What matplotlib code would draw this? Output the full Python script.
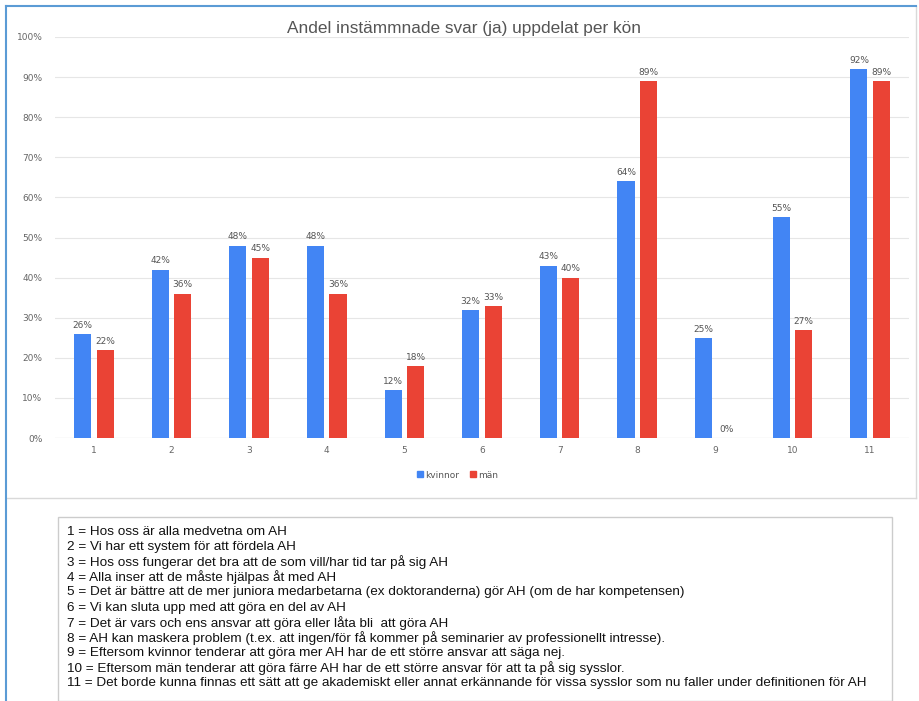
import matplotlib.pyplot as plt
import matplotlib.patches as mpatches
from matplotlib.lines import Line2D
import numpy as np

categories = ["1", "2", "3", "4", "5", "6", "7", "8", "9", "10", "11"]
kvinnor = [26, 42, 48, 48, 12, 32, 43, 64, 25, 55, 92]
man = [22, 36, 45, 36, 18, 33, 40, 89, 0, 27, 89]
yticks = [0, 10, 20, 30, 40, 50, 60, 70, 80, 90, 100]
title = "Andel instämmnade svar (ja) uppdelat per kön"
descriptions = [
    "1 = Hos oss är alla medvetna om AH",
    "2 = Vi har ett system för att fördela AH",
    "3 = Hos oss fungerar det bra att de som vill/har tid tar på sig AH",
    "4 = Alla inser att de måste hjälpas åt med AH",
    "5 = Det är bättre att de mer juniora medarbetarna (ex doktoranderna) gör AH (om de har kompetensen)",
    "6 = Vi kan sluta upp med att göra en del av AH",
    "7 = Det är vars och ens ansvar att göra eller låta bli  att göra AH",
    "8 = AH kan maskera problem (t.ex. att ingen/för få kommer på seminarier av professionellt intresse).",
    "9 = Eftersom kvinnor tenderar att göra mer AH har de ett större ansvar att säga nej.",
    "10 = Eftersom män tenderar att göra färre AH har de ett större ansvar för att ta på sig sysslor.",
    "11 = Det borde kunna finnas ett sätt att ge akademiskt eller annat erkännande för vissa sysslor som nu faller under definitionen för AH",
]

W, H = 920, 701
blue = "#4285F4"
red = "#EA4335"

fig = plt.figure(figsize=(W / 100, H / 100), dpi=100)
fig.patch.set_facecolor("white")

def fx(px):
    return px / W

def fy(py):
    return 1 - py / H

# chart frame
fig.add_artist(Line2D([fx(916), fx(916)], [fy(6), fy(498)], color="#d9d9d9", lw=1))
fig.add_artist(Line2D([fx(6), fx(916)], [fy(498), fy(498)], color="#d9d9d9", lw=1))
fig.add_artist(Line2D([fx(6), fx(6)], [0, fy(6)], color="#5b9bd5", lw=1.5))
fig.add_artist(Line2D([fx(6), fx(916)], [fy(6), fy(6)], color="#5b9bd5", lw=1.5))

ax = fig.add_axes([fx(55), fy(438), fx(909) - fx(55), fy(37) - fy(438)])
x = np.arange(len(categories))
bw = 0.22
off = 0.145
b1 = ax.bar(x - off, kvinnor, bw, color=blue, label="kvinnor", zorder=3)
b2 = ax.bar(x + off, man, bw, color=red, label="män", zorder=3)
for bars, vals in ((b1, kvinnor), (b2, man)):
    for r, v in zip(bars, vals):
        ax.annotate(f"{v}%", (r.get_x() + r.get_width() / 2, v), xytext=(0, 3),
                    textcoords="offset points", ha="center", va="bottom",
                    fontsize=6.5, color="#555555")

ax.set_xlim(-0.5, len(categories) - 0.5)
ax.set_ylim(0, 100)
ax.set_yticks(yticks)
ax.set_yticklabels([f"{t}%" for t in yticks])
ax.set_xticks(x)
ax.set_xticklabels(categories)
ax.tick_params(length=0, labelsize=6.5, labelcolor="#666666")
ax.tick_params(axis="y", pad=9)
ax.tick_params(axis="x", pad=6)
ax.grid(axis="y", color="#e6e6e6", lw=0.8, zorder=0)
for s in ax.spines.values():
    s.set_visible(False)
ax.axhline(0, color="#cccccc", lw=0.8, zorder=1)

fig.text(fx(464), fy(28), title, ha="center", va="center", fontsize=12.4,
         color="#555555", family="Liberation Sans")

fig.legend(handles=[mpatches.Patch(color=blue, label="kvinnor"),
                    mpatches.Patch(color=red, label="män")],
           loc="center", bbox_to_anchor=(fx(458), fy(475)), ncol=2, frameon=False,
           fontsize=6.5, handlelength=0.6, handleheight=0.6, handletextpad=0.3,
           columnspacing=1.2, labelcolor="#555555")

# description box
fig.add_artist(mpatches.Rectangle((fx(58), 0), fx(892) - fx(58), fy(517),
                                  facecolor="white", edgecolor="#cccccc", lw=1))
for i, line in enumerate(descriptions):
    fig.text(fx(67), fy(532 + i * 15.1), line, ha="left", va="center",
             fontsize=9.7, color="#111111", family="Liberation Sans")

fig.savefig("out.png", dpi=100)
